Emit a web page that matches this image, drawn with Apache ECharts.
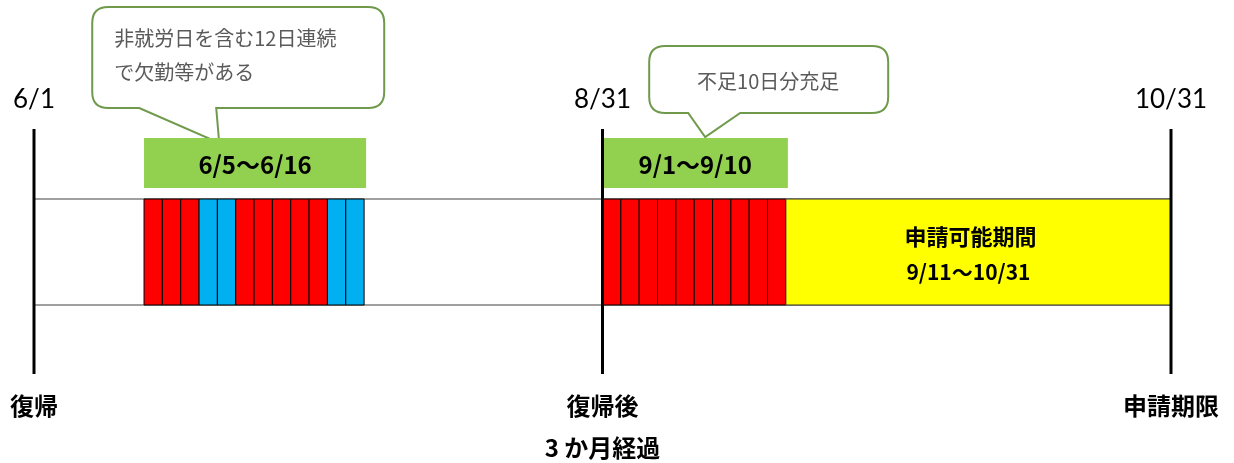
<!DOCTYPE html>
<html><head><meta charset="utf-8">
<script src="https://cdn.jsdelivr.net/npm/echarts@6/dist/echarts.min.js"></script>
<style>html,body{margin:0;padding:0;background:#fff}#c{width:1234px;height:463px}</style>
</head><body><div id="c"></div>
<script>
// ---- data ----
const markerDates = ['6/1', '8/31', '10/31'];
const markerDays = [0, 31, 62];
const markerNotes = ['復帰', '復帰後\n3 か月経過', '申請期限'];

const absenceStart = 6;
const absenceTypes = ['欠勤','欠勤','欠勤','休日','休日','欠勤','欠勤','欠勤','欠勤','欠勤','休日','休日'];
const makeupStart = 31;
const makeupTypes = ['欠勤','欠勤','欠勤','欠勤','欠勤','欠勤','欠勤','欠勤','欠勤','欠勤'];

const rangeLabels = ['6/5〜6/16', '9/1〜9/10'];
const rangeStarts = [absenceStart, makeupStart];
const rangeEnds = [absenceStart + absenceTypes.length, makeupStart + makeupTypes.length];

const periodStart = 41, periodEnd = 62;
const periodTitle = '申請可能期間';
const periodRange = '9/11〜10/31';

const calloutTexts = ['非就労日を含む12日連続\nで欠勤等がある', '不足10日分充足'];
const calloutTips = [10.1, 36.6];

// ---- styles / layout ----
const cellColor = { '欠勤': '#FF0000', '休日': '#00B0F0' };
const FONT_NUM = 'Lato, "Noto Sans CJK JP", sans-serif';
const FONT_JP = '"Noto Sans CJK JP", sans-serif';
const calloutLayout = [
  { L: -127, R: 165, T: -136, B: -35, b1: -80, b2: -3, tipY: -56, align: 'left', tx: -105, ty: -88 },
  { L: -56, R: 183, T: -91, B: -24, b1: -17, b2: 35, tipY: -62, align: 'center', tx: 63, ty: -56 }
];

const cells = [];
absenceTypes.forEach((t, i) => cells.push([absenceStart + i, absenceStart + i + 1, t]));
makeupTypes.forEach((t, i) => cells.push([makeupStart + i, makeupStart + i + 1, t]));

const chart = echarts.init(document.getElementById('c'));
chart.setOption({
  animation: false,
  grid: { left: 34, right: 63, top: 199, bottom: 158 },
  xAxis: { type: 'value', min: 0, max: 62, show: false },
  yAxis: { type: 'value', min: 0, max: 1, show: false },
  series: [
    { // band lines
      type: 'custom', clip: false, z: 1,
      data: [[markerDays[0], markerDays[markerDays.length - 1]]],
      renderItem(p, api) {
        const a = api.coord([api.value(0), 1]), b = api.coord([api.value(1), 0]);
        return { type: 'group', children: [
          { type: 'line', shape: { x1: a[0], y1: a[1], x2: b[0], y2: a[1] }, style: { stroke: '#404040', lineWidth: 1 } },
          { type: 'line', shape: { x1: a[0], y1: b[1], x2: b[0], y2: b[1] }, style: { stroke: '#404040', lineWidth: 1 } }
        ]};
      }
    },
    { // callouts
      type: 'custom', clip: false, z: 2,
      data: calloutTips.map((x, i) => [x, i]),
      renderItem(p, api) {
        const i = api.value(1);
        const c = calloutLayout[i];
        const top = api.coord([api.value(0), 1]);
        const tx = top[0], ty = top[1] + c.tipY;
        const L = tx + c.L, R = tx + c.R, T = ty + c.T, B = ty + c.B, r = 16;
        const path = `M${L + r},${T} H${R - r} Q${R},${T} ${R},${T + r} V${B - r} Q${R},${B} ${R - r},${B} H${tx + c.b2} L${tx},${ty} L${tx + c.b1},${B} H${L + r} Q${L},${B} ${L},${B - r} V${T + r} Q${L},${T} ${L + r},${T} Z`;
        return { type: 'group', children: [
          { type: 'path', shape: { pathData: path }, style: { fill: '#fff', stroke: '#6F9A4C', lineWidth: 2 } },
          { type: 'text', x: tx + c.tx, y: ty + c.ty, style: { text: calloutTexts[i], font: '20px ' + FONT_JP, fill: '#5A5A5A', align: c.align, verticalAlign: 'middle', lineHeight: 34 } }
        ]};
      }
    },
    { // green range boxes
      type: 'custom', clip: false, z: 3,
      data: rangeStarts.map((s, i) => [s, rangeEnds[i], i]),
      renderItem(p, api) {
        const a = api.coord([api.value(0), 1]), b = api.coord([api.value(1), 1]);
        const i = api.value(2);
        return { type: 'group', children: [
          { type: 'rect', shape: { x: a[0], y: a[1] - 61, width: b[0] - a[0] + 2, height: 50 }, style: { fill: '#92D050' } },
          { type: 'text', x: (a[0] + b[0]) / 2 + 1, y: a[1] - 34, style: { text: rangeLabels[i], font: 'bold 24px ' + FONT_JP, fill: '#000', align: 'center', verticalAlign: 'middle' } }
        ]};
      }
    },
    { // day cells
      type: 'custom', clip: false, z: 4,
      data: cells,
      renderItem(p, api) {
        const a = api.coord([api.value(0), 1]), b = api.coord([api.value(1), 0]);
        return { type: 'rect', shape: { x: a[0], y: a[1], width: b[0] - a[0], height: b[1] - a[1] },
          style: { fill: cellColor[cells[p.dataIndex][2]], stroke: '#000', lineWidth: 1 } };
      }
    },
    { // application period
      type: 'custom', clip: false, z: 4,
      data: [[periodStart, periodEnd]],
      renderItem(p, api) {
        const a = api.coord([api.value(0), 1]), b = api.coord([api.value(1), 0]);
        const cx = (a[0] + b[0]) / 2;
        return { type: 'group', children: [
          { type: 'rect', shape: { x: a[0], y: a[1], width: b[0] - a[0], height: b[1] - a[1] }, style: { fill: '#FFFF00', stroke: '#333', lineWidth: 1 } },
          { type: 'text', x: cx - 8, y: a[1] + 38, style: { text: periodTitle, font: 'bold 22px ' + FONT_JP, fill: '#000', align: 'center', verticalAlign: 'middle' } },
          { type: 'text', x: cx - 10, y: a[1] + 73, style: { text: periodRange, font: 'bold 21px ' + FONT_JP, fill: '#000', align: 'center', verticalAlign: 'middle' } }
        ]};
      }
    },
    { // markers
      type: 'custom', clip: false, z: 5,
      data: markerDays.map((d, i) => [d, i]),
      renderItem(p, api) {
        const i = api.value(1);
        const a = api.coord([api.value(0), 1]), b = api.coord([api.value(0), 0]);
        return { type: 'group', children: [
          { type: 'line', shape: { x1: a[0], y1: a[1] - 70, x2: a[0], y2: b[1] + 69 }, style: { stroke: '#000', lineWidth: 3 } },
          { type: 'text', x: a[0], y: a[1] - 99, style: { text: markerDates[i], font: '26px ' + FONT_NUM, fill: '#000', align: 'center', verticalAlign: 'middle' } },
          { type: 'text', x: a[0], y: b[1] + 80, style: { text: markerNotes[i], font: 'bold 24px ' + FONT_JP, fill: '#000', align: 'center', verticalAlign: 'top', lineHeight: 42 } }
        ]};
      }
    }
  ]
});
</script></body></html>
